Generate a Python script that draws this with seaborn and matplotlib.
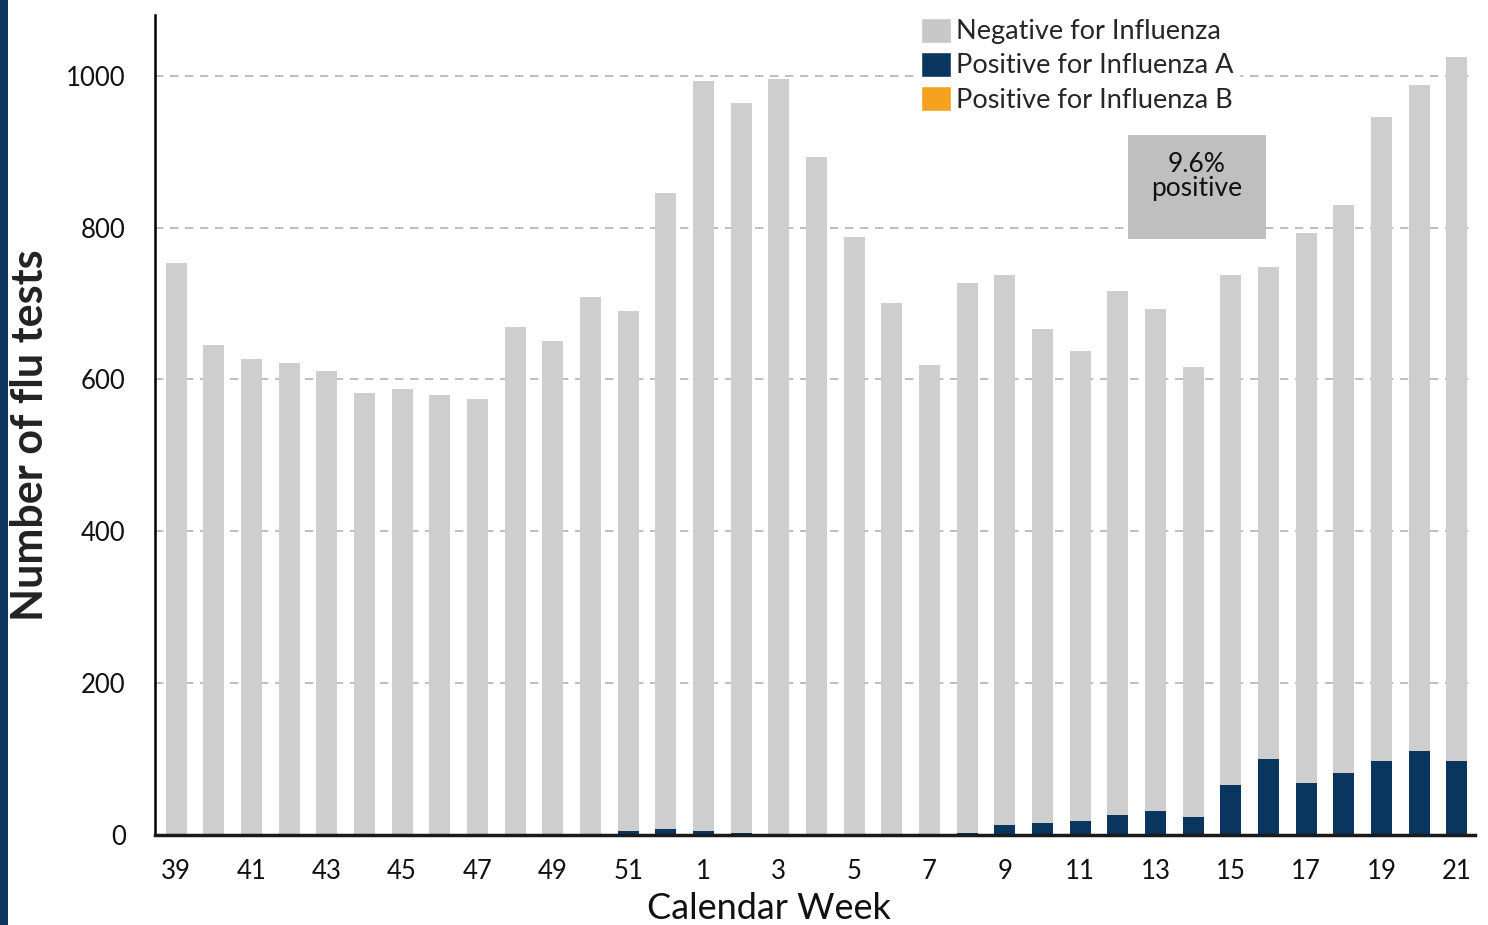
import pandas as pd
import matplotlib.pyplot as plt
import seaborn as sns
from matplotlib.patches import Rectangle, Patch

# weekly flu test counts
weeks = [39, 40, 41, 42, 43, 44, 45, 46, 47, 48, 49, 50, 51, 52,
         1, 2, 3, 4, 5, 6, 7, 8, 9, 10, 11, 12, 13, 14, 15, 16, 17, 18, 19, 20, 21]
negative = [752, 644, 626, 621, 610, 581, 587, 579, 573, 668, 650, 708, 685, 838,
            988, 961, 995, 892, 787, 700, 618, 724, 725, 651, 620, 691, 661, 593,
            672, 648, 724, 748, 849, 877, 928]
flu_a = [1, 1, 1, 1, 1, 1, 1, 1, 1, 1, 1, 1, 5, 8,
         5, 3, 1, 1, 1, 1, 1, 3, 13, 16, 18, 26, 32, 24,
         66, 100, 69, 82, 97, 111, 97]
flu_b = [0] * 35

df = pd.DataFrame({"week": [str(w) for w in weeks],
                   "neg": negative, "a": flu_a, "b": flu_b})
df["a_b"] = df["a"] + df["b"]
df["total"] = df["neg"] + df["a_b"]
order = list(df["week"])

grey = "#cecece"
navy = "#0a355f"
orange = "#f6a21e"

sns.set_style("white")
plt.rcParams["font.family"] = ["Lato", "DejaVu Sans"]

fig = plt.figure(figsize=(14.88, 9.25), dpi=100)
ax = fig.add_axes([155 / 1488, 90 / 925, 1320 / 1488, 820 / 925])

# stacked bars drawn as overlapping cumulative totals
for col, c, z in [("total", grey, 2), ("a_b", orange, 3), ("a", navy, 4)]:
    sns.barplot(data=df, x="week", y=col, order=order, color=c, width=0.56,
                saturation=1, linewidth=0, ax=ax, zorder=z)

ax.set_xlim(-0.56, 34.48)
ax.set_ylim(0, 1080)
ax.set_yticks([0, 200, 400, 600, 800, 1000])
for y in [200, 400, 600, 800, 1000]:
    ax.axhline(y, color="#b4b4b4", linestyle=(0, (5, 4)), linewidth=1.2, zorder=1)

ax.set_xticks(range(len(order)))
ax.set_xticklabels([w if i % 2 == 0 else "" for i, w in enumerate(order)])
ax.tick_params(axis="x", length=0, pad=17, labelsize=18.5, colors="#111111")
ax.tick_params(axis="y", length=0, pad=21, labelsize=18.5, colors="#111111")

for s in ["top", "right"]:
    ax.spines[s].set_visible(False)
ax.spines["left"].set_color("black")
ax.spines["left"].set_linewidth(1.8)
ax.spines["bottom"].set_color("#1a1a1a")
ax.spines["bottom"].set_linewidth(2.5)
ax.spines["bottom"].set_zorder(5)

ax.set_xlabel("Calendar Week", fontsize=26, color="#111111")
ax.xaxis.set_label_coords((769 - 155) / 1320, -(892 - 835) / 820)
ax.set_ylabel("Number of flu tests", fontsize=31, fontweight="bold",
              color="#222222")
ax.yaxis.set_label_coords(-(155 - 50) / 1320, (835 - 435) / 820)

handles = [Patch(facecolor="#c8c8c8", label="Negative for Influenza"),
           Patch(facecolor=navy, label="Positive for Influenza A"),
           Patch(facecolor=orange, label="Positive for Influenza B")]
leg = ax.legend(handles=handles, loc="upper left", bbox_to_anchor=(0.566, 1.02),
                fontsize=19.5, frameon=True, facecolor="white", edgecolor="white",
                framealpha=1, handlelength=1.1, handleheight=1.05,
                handletextpad=0.2, labelspacing=0.27, borderpad=0.2)
leg.set_zorder(6)

# annotation box
ax.add_patch(Rectangle((0.737, 0.727), 0.1045, 0.127, transform=ax.transAxes,
                       facecolor="#bfbfbf", edgecolor="none", zorder=6))
ax.text(0.7894, 0.803, "9.6%\npositive", transform=ax.transAxes, ha="center",
        va="center", fontsize=19, color="#111111", linespacing=0.95, zorder=7)

# dark stripe on the left edge
fig.patches.append(Rectangle((0, 0), 8 / 1488, 1, transform=fig.transFigure,
                             facecolor="#0a355f", edgecolor="none"))

fig.savefig("out.png", dpi=100)
